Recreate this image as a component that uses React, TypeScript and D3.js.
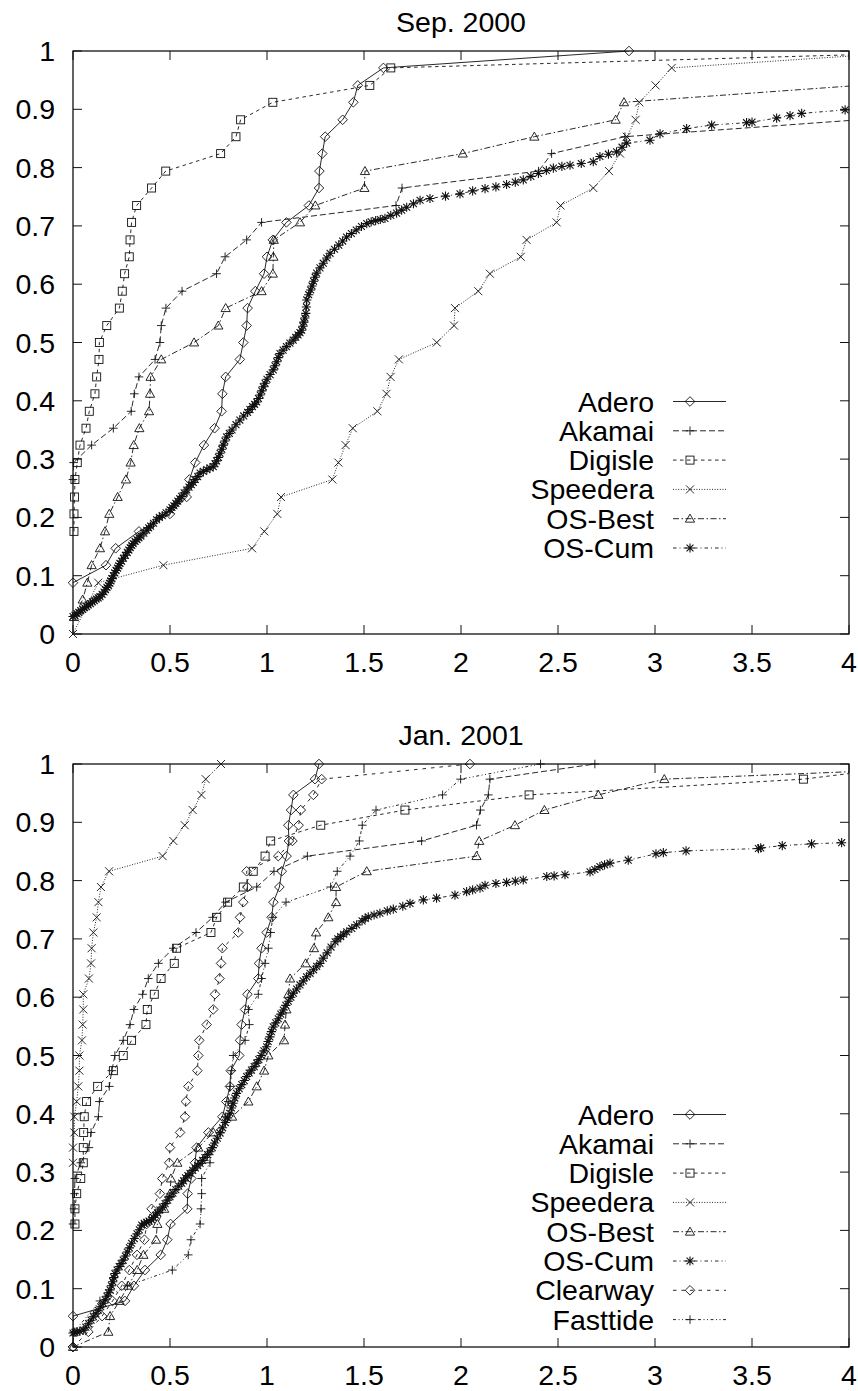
import React from 'react';
import * as d3 from 'd3';

type Pt = [number, number];

// axis ticks
const xTicks = [0, 0.5, 1, 1.5, 2, 2.5, 3, 3.5, 4];
const yTicks = [0, 0.1, 0.2, 0.3, 0.4, 0.5, 0.6, 0.7, 0.8, 0.9, 1];

const titles = ['Sep. 2000', 'Jan. 2001'];

// ---- Sep. 2000 ----
const adero2000: Pt[] = [[0,0.088],[0.17,0.118],[0.22,0.147],[0.34,0.176],[0.5,0.206],[0.586,0.235],[0.6,0.265],[0.63,0.294],[0.675,0.324],[0.73,0.353],[0.766,0.382],[0.77,0.412],[0.787,0.441],[0.86,0.471],[0.878,0.5],[0.895,0.529],[0.9,0.559],[0.94,0.588],[0.985,0.618],[1.0,0.647],[1.03,0.676],[1.1,0.706],[1.216,0.735],[1.268,0.765],[1.27,0.794],[1.285,0.824],[1.3,0.853],[1.39,0.882],[1.445,0.912],[1.468,0.941],[1.6,0.971],[2.866,1.0]];
const akamai2000: Pt[] = [[0,0.265],[0.003,0.294],[0.096,0.324],[0.208,0.353],[0.3,0.382],[0.316,0.412],[0.34,0.441],[0.423,0.471],[0.448,0.5],[0.455,0.529],[0.479,0.559],[0.562,0.588],[0.74,0.618],[0.784,0.647],[0.895,0.676],[0.972,0.706],[1.665,0.735],[1.696,0.765],[2.4,0.794],[2.467,0.824],[2.845,0.853],[4.05,0.882]];
const digisle2000: Pt[] = [[0.005,0.176],[0.005,0.206],[0.008,0.235],[0.01,0.265],[0.022,0.294],[0.036,0.324],[0.067,0.353],[0.084,0.382],[0.113,0.412],[0.122,0.441],[0.134,0.471],[0.136,0.5],[0.174,0.529],[0.239,0.559],[0.254,0.588],[0.266,0.618],[0.29,0.647],[0.294,0.676],[0.302,0.706],[0.328,0.735],[0.405,0.765],[0.478,0.794],[0.761,0.824],[0.84,0.853],[0.864,0.882],[1.03,0.912],[1.53,0.941],[1.638,0.971],[4.7,1.0]];
const speedera2000: Pt[] = [[0,0],[0.13,0.088],[0.466,0.118],[0.923,0.147],[0.986,0.176],[1.053,0.206],[1.072,0.235],[1.337,0.265],[1.368,0.294],[1.405,0.324],[1.442,0.353],[1.569,0.382],[1.616,0.412],[1.637,0.441],[1.68,0.471],[1.875,0.5],[1.964,0.529],[1.969,0.559],[2.089,0.588],[2.149,0.618],[2.308,0.647],[2.338,0.676],[2.493,0.706],[2.513,0.735],[2.682,0.765],[2.763,0.794],[2.82,0.824],[2.854,0.853],[2.9,0.882],[2.919,0.912],[3.003,0.941],[3.086,0.971],[4.4,1.0]];
const osBest2000: Pt[] = [[0.005,0.029],[0.05,0.059],[0.074,0.088],[0.096,0.118],[0.139,0.147],[0.165,0.176],[0.187,0.206],[0.23,0.235],[0.273,0.265],[0.297,0.294],[0.313,0.324],[0.342,0.353],[0.392,0.382],[0.397,0.412],[0.4,0.441],[0.455,0.471],[0.624,0.5],[0.749,0.529],[0.787,0.559],[0.972,0.588],[1.03,0.618],[1.033,0.647],[1.035,0.676],[1.17,0.706],[1.249,0.735],[1.502,0.765],[1.505,0.794],[2.009,0.824],[2.378,0.853],[2.797,0.882],[2.84,0.912],[4.05,0.941]];
const osCum2000: Pt[] = [[0,0.03],[0.01,0.032],[0.02,0.035],[0.03,0.037],[0.04,0.04],[0.05,0.042],[0.06,0.045],[0.07,0.047],[0.079,0.05],[0.09,0.052],[0.1,0.055],[0.11,0.057],[0.12,0.06],[0.13,0.062],[0.139,0.064],[0.15,0.068],[0.16,0.072],[0.168,0.076],[0.175,0.08],[0.183,0.083],[0.19,0.087],[0.195,0.091],[0.2,0.095],[0.208,0.1],[0.215,0.105],[0.222,0.109],[0.23,0.113],[0.236,0.117],[0.242,0.121],[0.25,0.125],[0.26,0.13],[0.27,0.135],[0.28,0.14],[0.288,0.144],[0.295,0.148],[0.303,0.152],[0.31,0.155],[0.32,0.159],[0.33,0.162],[0.34,0.165],[0.35,0.168],[0.365,0.173],[0.38,0.178],[0.39,0.182],[0.4,0.185],[0.415,0.19],[0.431,0.196],[0.445,0.2],[0.46,0.203],[0.48,0.208],[0.5,0.213],[0.51,0.217],[0.52,0.22],[0.53,0.224],[0.54,0.228],[0.55,0.232],[0.56,0.236],[0.573,0.242],[0.586,0.247],[0.598,0.252],[0.61,0.256],[0.62,0.26],[0.63,0.265],[0.643,0.27],[0.655,0.276],[0.672,0.279],[0.69,0.282],[0.706,0.285],[0.723,0.287],[0.732,0.292],[0.74,0.297],[0.75,0.303],[0.758,0.31],[0.767,0.317],[0.775,0.324],[0.783,0.331],[0.792,0.338],[0.806,0.344],[0.82,0.35],[0.84,0.359],[0.86,0.367],[0.88,0.374],[0.9,0.38],[0.912,0.385],[0.925,0.39],[0.936,0.394],[0.947,0.398],[0.956,0.404],[0.965,0.41],[0.973,0.417],[0.981,0.424],[0.99,0.43],[1.0,0.437],[1.016,0.445],[1.032,0.453],[1.041,0.46],[1.05,0.467],[1.058,0.474],[1.067,0.481],[1.083,0.487],[1.1,0.493],[1.118,0.499],[1.135,0.504],[1.148,0.509],[1.16,0.513],[1.17,0.517],[1.179,0.521],[1.185,0.528],[1.19,0.535],[1.195,0.542],[1.2,0.55],[1.203,0.561],[1.205,0.573],[1.215,0.582],[1.225,0.59],[1.232,0.597],[1.24,0.605],[1.248,0.612],[1.256,0.619],[1.273,0.628],[1.29,0.636],[1.308,0.645],[1.325,0.653],[1.348,0.66],[1.37,0.667],[1.39,0.674],[1.41,0.681],[1.435,0.687],[1.46,0.693],[1.487,0.699],[1.514,0.704],[1.537,0.707],[1.56,0.709],[1.584,0.711],[1.608,0.713],[1.638,0.718],[1.668,0.722],[1.694,0.727],[1.72,0.732],[1.755,0.738],[1.789,0.744],[1.84,0.747],[1.92,0.751],[1.995,0.755],[2.06,0.76],[2.124,0.764],[2.18,0.767],[2.235,0.771],[2.28,0.775],[2.321,0.779],[2.36,0.785],[2.399,0.79],[2.44,0.795],[2.476,0.799],[2.52,0.802],[2.562,0.804],[2.62,0.807],[2.682,0.81],[2.716,0.819],[2.76,0.823],[2.802,0.827],[2.83,0.835],[2.854,0.842],[2.974,0.847],[3.026,0.858],[3.163,0.867],[3.292,0.873],[3.472,0.877],[3.5,0.878],[3.627,0.885],[3.696,0.889],[3.756,0.893],[3.98,0.899]];

// ---- Jan. 2001 ----
const adero2001: Pt[] = [[0,0],[0,0.053],[0.268,0.079],[0.314,0.105],[0.371,0.132],[0.452,0.158],[0.486,0.184],[0.503,0.211],[0.589,0.237],[0.591,0.263],[0.61,0.289],[0.629,0.316],[0.637,0.342],[0.698,0.368],[0.77,0.395],[0.79,0.421],[0.809,0.447],[0.813,0.474],[0.857,0.5],[0.861,0.526],[0.869,0.553],[0.887,0.579],[0.899,0.605],[0.955,0.632],[0.959,0.658],[0.972,0.684],[0.998,0.711],[1.024,0.737],[1.033,0.763],[1.064,0.789],[1.076,0.816],[1.101,0.842],[1.113,0.868],[1.11,0.895],[1.124,0.921],[1.136,0.947],[1.247,0.974],[1.268,1.0]];
const akamai2001: Pt[] = [[0,0.211],[0.005,0.237],[0.008,0.263],[0.01,0.289],[0.04,0.316],[0.082,0.342],[0.093,0.368],[0.131,0.395],[0.136,0.421],[0.187,0.447],[0.2,0.474],[0.216,0.5],[0.259,0.526],[0.294,0.553],[0.314,0.579],[0.359,0.605],[0.388,0.632],[0.44,0.658],[0.517,0.684],[0.634,0.711],[0.72,0.737],[0.787,0.763],[0.947,0.789],[1.036,0.816],[1.208,0.842],[1.797,0.868],[2.08,0.895],[2.1,0.921],[2.141,0.947],[2.149,0.974],[2.69,1.0]];
const digisle2001: Pt[] = [[0.01,0.211],[0.01,0.237],[0.019,0.263],[0.04,0.289],[0.053,0.316],[0.053,0.342],[0.055,0.368],[0.058,0.395],[0.07,0.421],[0.127,0.447],[0.208,0.474],[0.259,0.5],[0.302,0.526],[0.376,0.553],[0.383,0.579],[0.419,0.605],[0.454,0.632],[0.522,0.658],[0.534,0.684],[0.711,0.711],[0.741,0.737],[0.797,0.763],[0.878,0.789],[0.929,0.816],[0.99,0.842],[1.019,0.868],[1.277,0.895],[1.711,0.921],[2.351,0.947],[3.765,0.974],[4.4,1.0]];
const speedera2001: Pt[] = [[0,0.316],[0,0.342],[0.007,0.368],[0.007,0.395],[0.019,0.421],[0.027,0.447],[0.033,0.474],[0.033,0.5],[0.046,0.526],[0.05,0.553],[0.053,0.579],[0.053,0.605],[0.082,0.632],[0.093,0.658],[0.096,0.684],[0.105,0.711],[0.122,0.737],[0.131,0.763],[0.144,0.789],[0.186,0.816],[0.462,0.842],[0.517,0.868],[0.576,0.895],[0.617,0.921],[0.662,0.947],[0.684,0.974],[0.763,1.0]];
const osBest2001: Pt[] = [[0,0],[0.182,0.026],[0.191,0.053],[0.24,0.079],[0.285,0.105],[0.331,0.132],[0.363,0.158],[0.428,0.184],[0.435,0.211],[0.47,0.237],[0.5,0.263],[0.505,0.289],[0.538,0.316],[0.646,0.342],[0.723,0.368],[0.82,0.395],[0.904,0.421],[0.947,0.447],[0.985,0.474],[1.007,0.5],[1.088,0.526],[1.093,0.553],[1.1,0.579],[1.11,0.605],[1.119,0.632],[1.199,0.658],[1.242,0.684],[1.253,0.711],[1.316,0.737],[1.356,0.763],[1.356,0.789],[1.514,0.816],[2.08,0.842],[2.094,0.868],[2.278,0.895],[2.43,0.921],[2.708,0.947],[3.048,0.974],[5.0,1.0]];
const osCum2001: Pt[] = [[0,0.024],[0.01,0.025],[0.02,0.026],[0.035,0.027],[0.053,0.029],[0.066,0.034],[0.08,0.04],[0.093,0.046],[0.105,0.052],[0.118,0.057],[0.13,0.063],[0.143,0.069],[0.156,0.075],[0.166,0.081],[0.175,0.087],[0.183,0.093],[0.191,0.098],[0.198,0.105],[0.205,0.112],[0.21,0.119],[0.216,0.126],[0.227,0.132],[0.238,0.138],[0.248,0.143],[0.259,0.149],[0.27,0.156],[0.28,0.163],[0.291,0.17],[0.302,0.178],[0.316,0.186],[0.33,0.194],[0.342,0.201],[0.354,0.209],[0.367,0.212],[0.38,0.214],[0.392,0.216],[0.405,0.218],[0.415,0.222],[0.425,0.226],[0.436,0.23],[0.448,0.235],[0.461,0.24],[0.475,0.246],[0.488,0.252],[0.5,0.258],[0.515,0.264],[0.53,0.27],[0.545,0.276],[0.56,0.281],[0.57,0.285],[0.58,0.29],[0.592,0.294],[0.603,0.298],[0.617,0.303],[0.63,0.307],[0.643,0.311],[0.655,0.315],[0.668,0.32],[0.68,0.325],[0.693,0.33],[0.706,0.335],[0.718,0.342],[0.73,0.35],[0.744,0.358],[0.758,0.367],[0.771,0.376],[0.785,0.385],[0.797,0.393],[0.809,0.401],[0.817,0.41],[0.825,0.418],[0.834,0.427],[0.843,0.435],[0.857,0.443],[0.87,0.45],[0.883,0.457],[0.895,0.464],[0.908,0.47],[0.92,0.475],[0.934,0.481],[0.947,0.487],[0.958,0.493],[0.97,0.5],[0.984,0.508],[0.998,0.515],[1.006,0.524],[1.015,0.532],[1.023,0.541],[1.032,0.549],[1.045,0.556],[1.058,0.563],[1.071,0.571],[1.084,0.578],[1.097,0.586],[1.11,0.593],[1.123,0.6],[1.136,0.607],[1.153,0.614],[1.17,0.621],[1.187,0.628],[1.204,0.635],[1.222,0.641],[1.24,0.647],[1.256,0.653],[1.273,0.658],[1.29,0.667],[1.31,0.676],[1.33,0.686],[1.351,0.695],[1.365,0.7],[1.38,0.704],[1.395,0.708],[1.411,0.712],[1.437,0.718],[1.462,0.724],[1.49,0.731],[1.506,0.735],[1.522,0.738],[1.552,0.741],[1.582,0.744],[1.62,0.748],[1.651,0.751],[1.7,0.756],[1.737,0.761],[1.806,0.767],[1.874,0.77],[1.969,0.775],[2.029,0.781],[2.06,0.784],[2.098,0.787],[2.124,0.792],[2.18,0.795],[2.235,0.797],[2.28,0.799],[2.321,0.801],[2.442,0.807],[2.48,0.808],[2.536,0.81],[2.665,0.815],[2.69,0.819],[2.716,0.824],[2.74,0.827],[2.768,0.83],[2.862,0.835],[3.005,0.846],[3.043,0.848],[3.16,0.851],[3.533,0.855],[3.545,0.856],[3.656,0.86],[3.807,0.863],[3.962,0.865]];
const clearway2001: Pt[] = [[0,0],[0.079,0.026],[0.15,0.053],[0.204,0.079],[0.251,0.105],[0.29,0.132],[0.33,0.158],[0.368,0.184],[0.38,0.211],[0.405,0.237],[0.448,0.263],[0.46,0.289],[0.496,0.316],[0.5,0.342],[0.552,0.368],[0.577,0.395],[0.582,0.421],[0.595,0.447],[0.641,0.474],[0.646,0.5],[0.651,0.526],[0.689,0.553],[0.723,0.579],[0.732,0.605],[0.755,0.632],[0.763,0.658],[0.77,0.684],[0.852,0.711],[0.861,0.737],[0.878,0.763],[0.899,0.789],[0.895,0.816],[1.058,0.842],[1.131,0.868],[1.163,0.895],[1.174,0.921],[1.239,0.947],[1.282,0.974],[2.046,1.0]];
const fasttide2001: Pt[] = [[0.005,0.026],[0.139,0.079],[0.28,0.105],[0.512,0.132],[0.594,0.158],[0.608,0.184],[0.655,0.211],[0.66,0.237],[0.663,0.263],[0.663,0.289],[0.706,0.316],[0.72,0.342],[0.76,0.368],[0.785,0.395],[0.8,0.421],[0.81,0.447],[0.818,0.474],[0.826,0.5],[0.887,0.526],[0.909,0.553],[0.904,0.579],[0.955,0.605],[0.972,0.632],[0.99,0.658],[1.007,0.684],[1.019,0.711],[1.03,0.737],[1.098,0.763],[1.328,0.789],[1.362,0.816],[1.428,0.842],[1.476,0.868],[1.491,0.895],[1.562,0.921],[1.905,0.947],[1.998,0.974],[2.41,1.0]];

type Kind = 'diamond' | 'plus' | 'square' | 'cross' | 'triangle' | 'star';
interface Series { name: string; data: Pt[]; marker: Kind; dash: string }

const styles: Record<string, { marker: Kind; dash: string }> = {
  Adero: { marker: 'diamond', dash: 'none' },
  Akamai: { marker: 'plus', dash: '6,3' },
  Digisle: { marker: 'square', dash: '3.5,3.5' },
  Speedera: { marker: 'cross', dash: '1,1.6' },
  'OS-Best': { marker: 'triangle', dash: '6,2.5,1.5,2.5' },
  'OS-Cum': { marker: 'star', dash: '3.5,3,1,3' },
  Clearway: { marker: 'diamond', dash: '3.5,5' },
  Fasttide: { marker: 'plus', dash: '3,2.5,1,2.5,1,2.5' },
};

const mk = (name: string, data: Pt[]): Series => ({ name, data, ...styles[name] });

const panels: Series[][] = [
  [mk('Adero', adero2000), mk('Akamai', akamai2000), mk('Digisle', digisle2000), mk('Speedera', speedera2000), mk('OS-Best', osBest2000), mk('OS-Cum', osCum2000)],
  [mk('Adero', adero2001), mk('Akamai', akamai2001), mk('Digisle', digisle2001), mk('Speedera', speedera2001), mk('OS-Best', osBest2001), mk('OS-Cum', osCum2001), mk('Clearway', clearway2001), mk('Fasttide', fasttide2001)],
];

const FONT = '"Liberation Sans", Arial, Helvetica, sans-serif';
const INK = '#111';

function Marker({ kind, cx, cy }: { kind: Kind; cx: number; cy: number }) {
  const p = { fill: 'none', stroke: INK, strokeWidth: 0.9 };
  switch (kind) {
    case 'diamond': {
      const s = 4.8;
      return <path {...p} d={`M${cx},${cy - s}L${cx + s},${cy}L${cx},${cy + s}L${cx - s},${cy}Z`} />;
    }
    case 'square': {
      const s = 4;
      return <rect {...p} x={cx - s} y={cy - s} width={2 * s} height={2 * s} />;
    }
    case 'plus': {
      const s = 4.3;
      return <path {...p} d={`M${cx - s},${cy}H${cx + s}M${cx},${cy - s}V${cy + s}`} />;
    }
    case 'cross': {
      const s = 4;
      return <path {...p} d={`M${cx - s},${cy - s}L${cx + s},${cy + s}M${cx - s},${cy + s}L${cx + s},${cy - s}`} />;
    }
    case 'triangle': {
      const s = 4.6;
      return <path {...p} d={`M${cx},${cy - s}L${cx + s},${cy + s * 0.75}L${cx - s},${cy + s * 0.75}Z`} />;
    }
    default: {
      const s = 4.6;
      const d = s * 0.75;
      return <path {...p} strokeWidth={1.1} d={`M${cx - s},${cy}H${cx + s}M${cx},${cy - s}V${cy + s}M${cx - d},${cy - d}L${cx + d},${cy + d}M${cx - d},${cy + d}L${cx + d},${cy - d}`} />;
    }
  }
}

const LEFT = 73;
const RIGHT = 849;
const H = 583;

function Panel({ top, title, series, id }: { top: number; title: string; series: Series[]; id: string }) {
  const x = d3.scaleLinear().domain([0, 4]).range([LEFT, RIGHT]);
  const y = d3.scaleLinear().domain([0, 1]).range([top + H, top]);
  const line = d3.line<Pt>().x(d => x(d[0])).y(d => y(d[1]));
  const tick = 9;
  const legX = 654;
  const legLine0 = 673;
  const legLine1 = 726;
  const legMarker = 690;
  const legY0 = top + 350.5;
  const legStep = 29.3;

  return (
    <g>
      <defs>
        <clipPath id={id}>
          <rect x={LEFT} y={top} width={RIGHT - LEFT} height={H} />
        </clipPath>
      </defs>
      <text x={(LEFT + RIGHT) / 2} y={top - 19} textAnchor="middle" fontSize={28.5} fontFamily={FONT} fill="#000">{title}</text>

      {/* ticks */}
      {xTicks.map(t => (
        <g key={'x' + t}>
          <line x1={x(t)} x2={x(t)} y1={top + H} y2={top + H - tick} stroke={INK} strokeWidth={1} />
          <line x1={x(t)} x2={x(t)} y1={top} y2={top + tick} stroke={INK} strokeWidth={1} />
          <text x={x(t)} y={top + H + 38} textAnchor="middle" fontSize={28.5} fontFamily={FONT} fill="#000">{String(t)}</text>
        </g>
      ))}
      {yTicks.map(t => (
        <g key={'y' + t}>
          <line x1={LEFT} x2={LEFT + tick} y1={y(t)} y2={y(t)} stroke={INK} strokeWidth={1} />
          <line x1={RIGHT} x2={RIGHT - tick} y1={y(t)} y2={y(t)} stroke={INK} strokeWidth={1} />
          <text x={55} y={y(t) + 10} textAnchor="end" fontSize={28.5} fontFamily={FONT} fill="#000">{String(t)}</text>
        </g>
      ))}

      {/* series */}
      <g clipPath={`url(#${id})`}>
        {series.map(s => (
          <path key={s.name} d={line(s.data) ?? ''} fill="none" stroke={INK} strokeWidth={0.9}
            strokeDasharray={s.dash === 'none' ? undefined : s.dash} />
        ))}
      </g>
      {series.map(s => (
        <g key={s.name + 'm'}>
          {s.data.filter(d => d[0] <= 4).map((d, i) => (
            <Marker key={i} kind={s.marker} cx={x(d[0])} cy={y(d[1])} />
          ))}
        </g>
      ))}

      {/* legend */}
      {series.map((s, i) => {
        const cy = legY0 + i * legStep;
        return (
          <g key={s.name + 'l'}>
            <text x={legX} y={cy + 10} textAnchor="end" fontSize={28.5} fontFamily={FONT} fill="#000">{s.name}</text>
            <line x1={legLine0} x2={legLine1} y1={cy} y2={cy} stroke={INK} strokeWidth={0.9}
              strokeDasharray={s.dash === 'none' ? undefined : s.dash} />
            <Marker kind={s.marker} cx={legMarker} cy={cy} />
          </g>
        );
      })}

      <rect x={LEFT} y={top} width={RIGHT - LEFT} height={H} fill="none" stroke={INK} strokeWidth={1.3} />
    </g>
  );
}

export default function App() {
  return (
    <div style={{ position: 'absolute', left: 0, top: 0 }}>
      <svg width={858} height={1391} style={{ display: 'block', background: '#fff' }}>
        <rect width={858} height={1391} fill="#fff" />
        <Panel top={51} title={titles[0]} series={panels[0]} id="clipA" />
        <Panel top={764} title={titles[1]} series={panels[1]} id="clipB" />
      </svg>
    </div>
  );
}
